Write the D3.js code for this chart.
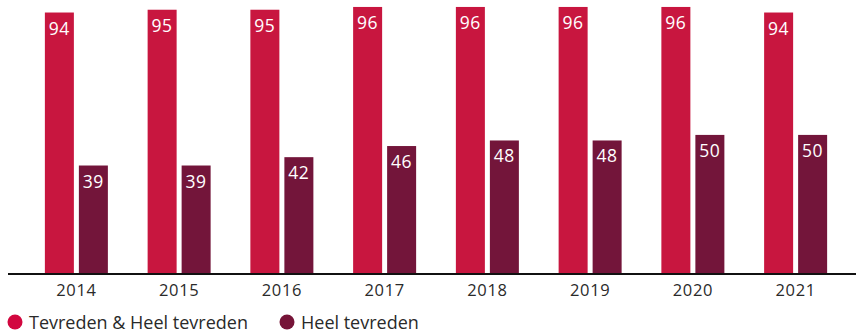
<!DOCTYPE html>
<html>
<head>
<meta charset="utf-8">
<script src="https://cdn.jsdelivr.net/npm/d3@7"></script>
<style>
  html, body { margin: 0; padding: 0; background: #fff; }
  svg { display: block; font-family: "Open Sans", sans-serif; }
</style>
</head>
<body>
<svg id="chart" width="856" height="333"></svg>
<script>
// Satisfaction per year (percent)
const years = ["2014", "2015", "2016", "2017", "2018", "2019", "2020", "2021"];
const tevreden = [94, 95, 95, 96, 96, 96, 96, 94];
const heelTevreden = [39, 39, 42, 46, 48, 48, 50, 50];
const seriesNames = ["Tevreden & Heel tevreden", "Heel tevreden"];
const barColors = ["#C8163F", "#73153A"];
const legendColors = ["#D2073F", "#761438"];

const seriesValues = [tevreden, heelTevreden];
const rows = years.map((yr, i) => ({
  year: yr,
  values: seriesNames.map((s, k) => ({ key: s, k, value: seriesValues[k][i] }))
}));

const svg = d3.select("#chart");
const baseY = 274;

const x0 = d3.scaleBand().domain(years).range([25, 847]).padding(0);
const groupW = 63;
const x1 = d3.scaleBand()
  .domain(seriesNames)
  .range([x0.bandwidth() / 2 - groupW / 2, x0.bandwidth() / 2 + groupW / 2])
  .paddingInner(0.147)
  .paddingOuter(0);
const y = d3.scaleLinear().domain([0, 98.5]).range([baseY, 0]);

const groups = svg.append("g").selectAll("g")
  .data(rows)
  .join("g")
  .attr("transform", d => `translate(${x0(d.year)},0)`);

groups.selectAll("rect")
  .data(d => d.values)
  .join("rect")
  .attr("x", d => x1(d.key))
  .attr("width", x1.bandwidth())
  .attr("y", d => y(d.value))
  .attr("height", d => y(0) - y(d.value))
  .attr("fill", d => barColors[d.k]);

groups.selectAll("text")
  .data(d => d.values)
  .join("text")
  .attr("x", d => x1(d.key) + x1.bandwidth() / 2)
  .attr("y", d => y(d.value) + 22)
  .attr("text-anchor", "middle")
  .attr("fill", "#fff")
  .attr("font-size", "17.5px")
  .attr("letter-spacing", "0.6px")
  .text(d => d.value);

// Baseline axis with year labels
const axis = svg.append("g")
  .attr("transform", `translate(0,${baseY})`)
  .call(d3.axisBottom(x0).tickSize(0).tickPadding(10));
axis.select(".domain").remove();
axis.selectAll("text")
  .attr("font-family", "Open Sans, sans-serif")
  .attr("font-size", "16.5px")
  .attr("letter-spacing", "0.6px")
  .attr("fill", "#2a2a2a");
svg.append("line")
  .attr("x1", 8).attr("x2", 856)
  .attr("y1", baseY).attr("y2", baseY)
  .attr("stroke", "#111")
  .attr("stroke-width", 2.2);

// Legend
const legendX = [15, 287];
const legend = svg.append("g").selectAll("g")
  .data(seriesNames)
  .join("g")
  .attr("transform", (d, i) => `translate(${legendX[i]},322)`);
legend.append("circle")
  .attr("r", 7.5)
  .attr("fill", (d, i) => legendColors[i]);
legend.append("text")
  .attr("x", 14)
  .attr("y", 6.5)
  .attr("font-size", "18px")
  .attr("fill", "#2a2a2a")
  .text(d => d);
</script>
</body>
</html>
